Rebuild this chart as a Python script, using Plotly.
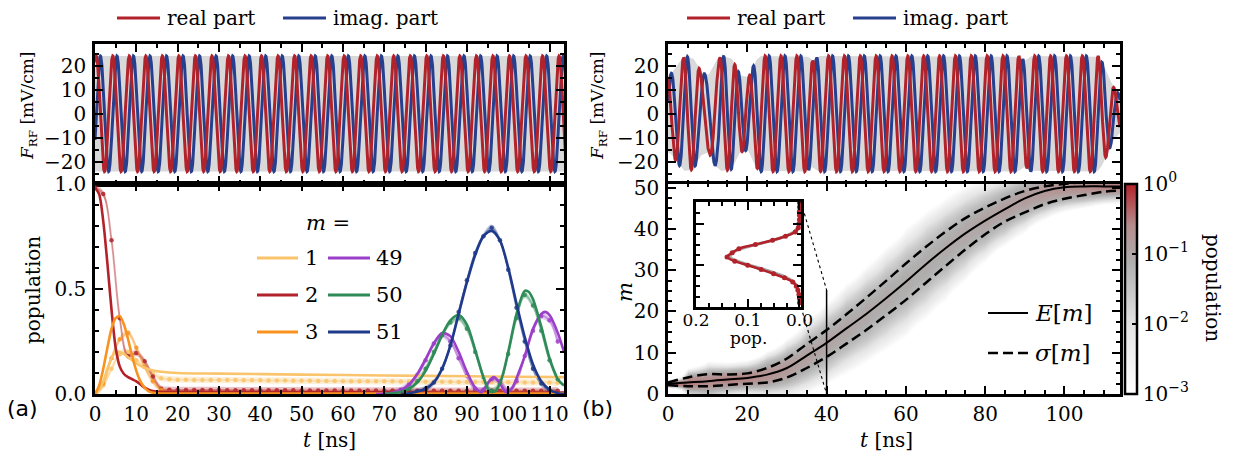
import numpy as np
import plotly.graph_objects as go

W, H = 1234, 462
SERIF = "DejaVu Serif"
SANS = "DejaVu Sans"

# ------------------------------------------------------------------ data
# (a) drive field: constant-amplitude carrier
a_amp = 24.0           # mV/cm
a_period = 4.0         # ns
a_first_peak = 0.3     # ns, first maximum of the real part

# (b) drive field: envelope samples and times of the real-part maxima
b_env_t = [0, 1, 2.6, 4.3, 6.4, 8.5, 10.2, 11.9, 13.6, 16.1, 18.2, 20.3, 22.0, 23.2,
           35.0, 36.5, 38.0, 88.5, 90.0, 91.5, 108.5, 110.0, 111.2, 112.9, 114.0]
b_env_A = [16, 17, 21, 24, 23, 17, 16, 21.8, 24, 23, 16, 15, 21.8, 24,
           24, 22, 24, 24, 22, 24, 24, 20, 15, 9.5, 8]
b_peak_t = [-0.2, 3.9, 7.9, 13.1, 16.9, 20.5, 24.5, 112.5, 116.5]
b_peak_n = [0, 1, 2, 3, 4, 5, 6, 28, 29]

# (a) populations: simulation curves (solid)
m1_sim_t = [0, 1, 2, 3, 4, 5, 6, 7, 8, 9, 10, 12, 14, 16, 20, 30, 50, 70, 90, 113.5]
m1_sim = [0, 0.02, 0.06, 0.12, 0.17, 0.2, 0.2, 0.19, 0.175, 0.16, 0.145, 0.125, 0.112, 0.106,
          0.1, 0.097, 0.092, 0.088, 0.084, 0.08]
m2_sim_t = [0, 1, 2, 3, 4, 5, 6, 7, 8, 9, 10, 11, 12, 13, 14, 15, 17, 20, 40, 70, 100, 113.5]
m2_sim = [0.98, 0.95, 0.82, 0.62, 0.4, 0.22, 0.13, 0.095, 0.08, 0.07, 0.06, 0.045, 0.03, 0.02,
          0.014, 0.011, 0.01, 0.01, 0.009, 0.008, 0.007, 0.007]
m3_sim_t = [0, 1, 2, 3, 4, 5, 6, 7, 8, 9, 10, 11, 12, 13, 14, 15, 17, 20, 60, 113.5]
m3_sim = [0, 0.04, 0.12, 0.22, 0.31, 0.36, 0.37, 0.33, 0.26, 0.18, 0.11, 0.06, 0.03, 0.013,
          0.006, 0.003, 0.002, 0.002, 0.002, 0.002]
m49_sim_t = [68, 70, 72, 74, 76, 78, 80, 82, 84, 86, 88, 90, 92, 93.5, 95, 96.5, 98, 99.5,
             101, 102.5, 104, 106, 108, 109, 110, 112, 113.5]
m49_sim = [0, 0.002, 0.006, 0.018, 0.045, 0.095, 0.165, 0.24, 0.29, 0.275, 0.2, 0.105, 0.03,
           0.008, 0.05, 0.08, 0.05, 0.008, 0.03, 0.1, 0.18, 0.31, 0.38, 0.39, 0.375, 0.29, 0.2]
m50_sim_t = [70, 72, 74, 76, 78, 80, 82, 84, 86, 88, 90, 92, 94, 95.5, 97, 98.5, 100, 102,
             104, 105, 106, 108, 110, 112, 113.5]
m50_sim = [0, 0.003, 0.01, 0.025, 0.055, 0.11, 0.19, 0.28, 0.35, 0.375, 0.33, 0.21, 0.08,
           0.012, 0.015, 0.08, 0.2, 0.38, 0.49, 0.485, 0.45, 0.32, 0.17, 0.07, 0.04]
m51_sim_t = [74, 76, 78, 80, 82, 84, 86, 88, 90, 92, 94, 96, 98, 100, 102, 104, 106, 108,
             110, 112, 113.5]
m51_sim = [0, 0.004, 0.012, 0.025, 0.055, 0.12, 0.23, 0.38, 0.53, 0.66, 0.75, 0.775, 0.73,
           0.6, 0.43, 0.27, 0.14, 0.06, 0.02, 0.004, 0]

# (a) populations: measured points (dots), every 2 ns
t_data = [0, 2, 4, 6, 8, 10, 12, 14, 16, 18, 20, 22, 24, 26, 28, 30, 32, 34, 36, 38, 40,
          42, 44, 46, 48, 50, 52, 54, 56, 58, 60, 62, 64, 66, 68, 70, 72, 74, 76, 78, 80,
          82, 84, 86, 88, 90, 92, 94, 96, 98, 100, 102, 104, 106, 108, 110, 112]
m1_data = [0.0, 0.04, 0.12, 0.19, 0.2, 0.16, 0.13, 0.095, 0.075, 0.07,
           0.068, 0.068, 0.067, 0.067, 0.067, 0.066, 0.066, 0.066, 0.065, 0.065, 0.065,
           0.064, 0.064, 0.064, 0.063, 0.063, 0.063, 0.062, 0.062, 0.062, 0.061, 0.061,
           0.061, 0.06, 0.06, 0.06, 0.06, 0.059, 0.059, 0.059, 0.058, 0.058, 0.058, 0.058,
           0.057, 0.057, 0.057, 0.057, 0.056, 0.056, 0.056, 0.056, 0.055, 0.055, 0.055,
           0.055, 0.054]
m2_data = [0.98, 0.95, 0.73, 0.36, 0.18, 0.195, 0.155, 0.083, 0.025, 0.02,
           0.019, 0.019, 0.019, 0.019, 0.019, 0.019, 0.018, 0.018, 0.018, 0.018, 0.018,
           0.018, 0.018, 0.018, 0.018, 0.017, 0.017, 0.017, 0.017, 0.017, 0.017, 0.017,
           0.017, 0.017, 0.017, 0.017, 0.017, 0.017, 0.016, 0.016, 0.016, 0.016, 0.016,
           0.016, 0.016, 0.016, 0.016, 0.016, 0.016, 0.016, 0.016, 0.016, 0.016, 0.016,
           0.016, 0.016, 0.016]
m3_data = [0.0, 0.05, 0.17, 0.26, 0.29, 0.22, 0.13, 0.06, 0.02, 0.008,
           0.005, 0.005, 0.005, 0.005, 0.005, 0.005, 0.005, 0.005, 0.005, 0.005, 0.005,
           0.005, 0.005, 0.005, 0.005, 0.005, 0.005, 0.005, 0.005, 0.005, 0.005, 0.005,
           0.005, 0.005, 0.005, 0.005, 0.005, 0.005, 0.005, 0.005, 0.005, 0.005, 0.005,
           0.005, 0.005, 0.005, 0.005, 0.005, 0.005, 0.005, 0.005, 0.005, 0.005, 0.005,
           0.005, 0.005, 0.005]
t_data_late = [70, 72, 74, 76, 78, 80, 82, 84, 86, 88, 90, 92, 94, 96, 98, 100, 102, 104,
               106, 108, 110, 112]
m49_data = [0.0, 0.005, 0.02, 0.045, 0.09, 0.16, 0.24, 0.28, 0.25, 0.17, 0.085, 0.025,
            0.02, 0.07, 0.06, 0.015, 0.06, 0.18, 0.3, 0.37, 0.35, 0.25]
m50_data = [0.0, 0.003, 0.01, 0.025, 0.06, 0.12, 0.2, 0.28, 0.34, 0.36, 0.31, 0.2, 0.08,
            0.015, 0.05, 0.19, 0.36, 0.47, 0.42, 0.3, 0.16, 0.07]
m51_data = [0.0, 0.002, 0.004, 0.006, 0.012, 0.025, 0.055, 0.12, 0.23, 0.39, 0.54, 0.67,
            0.75, 0.79, 0.73, 0.59, 0.41, 0.25, 0.12, 0.05, 0.015, 0.004]
data_err = 0.015

# (b) mean level and +/- sigma curves, read every 5 ns
hm_t = [0, 5, 10, 15, 20, 25, 30, 35, 40, 45, 50, 55, 60, 65, 70, 75, 80, 85, 90, 95,
        100, 105, 110, 115]
E_mean = [2.5, 2.8, 3.1, 3.5, 3.9, 4.7, 6.3, 9.3, 12.4, 15.9, 19.4, 23.2, 27.2, 31.4, 35.3,
          38.9, 42.0, 44.8, 47.4, 49.2, 50.1, 50.3, 50.3, 50.3]
sig_up = [2.8, 4.0, 4.8, 4.7, 5.0, 6.3, 8.6, 12.1, 15.5, 19.3, 23.3, 27.4, 31.6, 35.6, 39.3,
          42.6, 45.2, 47.4, 49.2, 50.3, 50.9, 51.3, 51.5, 51.6]
sig_lo = [2.2, 1.9, 1.9, 2.2, 2.5, 2.8, 4.0, 6.3, 9.0, 12.2, 15.5, 19.1, 22.8, 26.9, 31.0,
          35.0, 38.7, 41.8, 44.0, 46.0, 47.3, 48.2, 49.0, 49.3]
m_levels = list(range(0, 52))

# (b) inset: population distribution at t = 40 ns
inset_t = 40
inset_m = [1, 2, 3, 4, 5, 6, 7, 8, 9, 10, 11, 12, 13, 14, 15, 16, 17, 18, 19, 20, 21, 22,
           23, 24, 25]
inset_meas = [0.0, 0.0, 0.001, 0.003, 0.006, 0.013, 0.029, 0.05, 0.074, 0.1, 0.125, 0.14,
              0.13, 0.117, 0.085, 0.052, 0.027, 0.008, 0.002, 0.001, 0.0, 0.0, 0.0, 0.0, 0.0]
inset_theo = [0.0, 0.0, 0.001, 0.002, 0.005, 0.011, 0.024, 0.044, 0.068, 0.095, 0.12,
              0.134, 0.13, 0.112, 0.083, 0.052, 0.027, 0.011, 0.004, 0.001, 0.0, 0.0, 0.0,
              0.0, 0.0]

# ------------------------------------------------------------------ style
RED = "#b2222a"
BLUE = "#263f8e"
GRAY = "#d9d9d9"
COL = {1: "#f9c46b", 2: "#b2222a", 3: "#f7931e", 49: "#9b3fc9", 50: "#2e8b57", 51: "#1f3a8a"}


def rgba(hexc, a):
    h = hexc.lstrip("#")
    return "rgba(%d,%d,%d,%.3f)" % (int(h[0:2], 16), int(h[2:4], 16), int(h[4:6], 16), a)


XL = [95 / W, 564 / W]
XR = [668 / W, 1120 / W]
YT = [1 - 183.5 / H, 1 - 44 / H]
YB = [1 - 394 / H, 1 - 183.5 / H]
XI = [696 / W, 801 / W]
YI = [1 - 307 / H, 1 - 202 / H]
RX_A = [0, 113.5]
RX_B = [0, 114]
RY_TOP = [-29, 29]
RY_INSET = [0, 25.2]
RX_INSET = [0.2, -0.003]

fig = go.Figure()

# ---- (a) top: field
t_f = np.linspace(0, 114, 2281)
ph_a = 2 * np.pi * (t_f - a_first_peak) / a_period
fig.add_trace(go.Scatter(x=np.concatenate([t_f, t_f[::-1]]),
                         y=np.concatenate([np.full_like(t_f, a_amp), np.full_like(t_f, -a_amp)]),
                         fill="toself", fillcolor=GRAY, line=dict(width=0), mode="lines",
                         xaxis="x", yaxis="y", hoverinfo="skip"))
fig.add_trace(go.Scatter(x=t_f, y=a_amp * np.sin(ph_a), mode="lines",
                         line=dict(color=BLUE, width=3), xaxis="x", yaxis="y"))
fig.add_trace(go.Scatter(x=t_f, y=a_amp * np.cos(ph_a), mode="lines",
                         line=dict(color=RED, width=3), xaxis="x", yaxis="y"))

# ---- (b) top: field
env_b = np.interp(t_f, b_env_t, b_env_A)
ph_b = 2 * np.pi * np.interp(t_f, b_peak_t, b_peak_n)
fig.add_trace(go.Scatter(x=np.concatenate([t_f, t_f[::-1]]),
                         y=np.concatenate([env_b, -env_b[::-1]]),
                         fill="toself", fillcolor=GRAY, line=dict(width=0), mode="lines",
                         xaxis="x3", yaxis="y3", hoverinfo="skip"))
fig.add_trace(go.Scatter(x=t_f, y=env_b * np.sin(ph_b), mode="lines",
                         line=dict(color=BLUE, width=3), xaxis="x3", yaxis="y3"))
fig.add_trace(go.Scatter(x=t_f, y=env_b * np.cos(ph_b), mode="lines",
                         line=dict(color=RED, width=3), xaxis="x3", yaxis="y3"))

# ---- (a) bottom: populations
data_sets = [(1, t_data, m1_data), (2, t_data, m2_data), (3, t_data, m3_data),
             (49, t_data_late, m49_data), (50, t_data_late, m50_data),
             (51, t_data_late, m51_data)]
sim_sets = [(1, m1_sim_t, m1_sim), (2, m2_sim_t, m2_sim), (3, m3_sim_t, m3_sim),
            (49, m49_sim_t, m49_sim), (50, m50_sim_t, m50_sim), (51, m51_sim_t, m51_sim)]
for m, tt, yy in data_sets:
    tt = np.array(tt, float)
    yy = np.array(yy, float)
    fig.add_trace(go.Scatter(x=np.concatenate([tt, tt[::-1]]),
                             y=np.concatenate([yy + data_err, (yy - data_err)[::-1]]),
                             fill="toself", fillcolor=rgba(COL[m], 0.28), line=dict(width=0),
                             mode="lines", line_shape="spline", xaxis="x2", yaxis="y2",
                             hoverinfo="skip"))
for m, tt, yy in data_sets:
    fig.add_trace(go.Scatter(x=tt, y=yy, mode="lines+markers",
                             line=dict(color=rgba(COL[m], 0.4), width=2, shape="spline"),
                             marker=dict(color=rgba(COL[m], 0.85), size=4.5),
                             xaxis="x2", yaxis="y2"))
for m, tt, yy in sim_sets:
    fig.add_trace(go.Scatter(x=tt, y=yy, mode="lines",
                             line=dict(color=COL[m], width=2.6, shape="spline", smoothing=0.8),
                             xaxis="x2", yaxis="y2"))

# ---- (b) bottom: heatmap of population (Gaussian around the mean level)
E_arr = np.array(E_mean)
S_arr = np.maximum((np.array(sig_up) - np.array(sig_lo)) / 2, 0.3)
mm = np.array(m_levels, float)[:, None]
pop = np.exp(-(mm - E_arr[None, :]) ** 2 / (2 * S_arr[None, :] ** 2)) / (S_arr[None, :] * np.sqrt(2 * np.pi))
zlog = np.log10(np.clip(pop, 1e-8, 1.0))
cscale = [[0.0, "#ffffff"], [0.33, "#e4e4e4"], [0.62, "#b0b0b0"], [0.8, "#b48e8e"],
          [1.0, "#b2222a"]]
fig.add_trace(go.Heatmap(x=hm_t, y=m_levels, z=zlog, zmin=-3, zmax=0, zsmooth="best",
                         colorscale=cscale, xaxis="x4", yaxis="y4", hoverinfo="skip",
                         colorbar=dict(x=1125 / W, xanchor="left", y=1 - 288.5 / H,
                                       yanchor="middle", len=210 / H, lenmode="fraction",
                                       thickness=12, thicknessmode="pixels",
                                       outlinewidth=2.5, outlinecolor="black",
                                       tickvals=[-3, -2, -1, 0],
                                       ticktext=["10<sup>−3</sup>", "10<sup>−2</sup>",
                                                 "10<sup>−1</sup>", "10<sup>0</sup>"],
                                       ticks="inside", ticklen=6, tickwidth=2,
                                       tickcolor="black", xpad=0, ypad=0,
                                       tickfont=dict(family=SERIF, size=20, color="black"))))
fig.add_trace(go.Scatter(x=hm_t, y=E_mean, mode="lines",
                         line=dict(color="black", width=2, shape="spline"),
                         xaxis="x4", yaxis="y4"))
for arr in (sig_up, sig_lo):
    fig.add_trace(go.Scatter(x=hm_t, y=arr, mode="lines",
                             line=dict(color="black", width=2.5, dash="10px,5px", shape="spline"),
                             xaxis="x4", yaxis="y4"))

# ---- (b) inset
fig.add_trace(go.Scatter(x=inset_theo, y=inset_m, mode="lines",
                         line=dict(color="#a6a6a6", width=3, shape="spline"),
                         xaxis="x5", yaxis="y5"))
fig.add_trace(go.Scatter(x=inset_meas, y=inset_m, mode="lines+markers",
                         line=dict(color=RED, width=2.6, shape="spline"),
                         marker=dict(color=RED, size=5), xaxis="x5", yaxis="y5"))


# ------------------------------------------------------------------ axes
def axis(domain, rng, dtick, mdtick, anchor, labels=True, fmt=None, fsize=20, standoff=2):
    d = dict(domain=domain, range=rng, anchor=anchor, showline=True, linecolor="black",
             linewidth=2.5, mirror="allticks", ticks="inside", ticklen=8, tickwidth=1.8,
             tickcolor="black", dtick=dtick, tick0=0, showgrid=False, zeroline=False,
             showticklabels=labels, ticklabelstandoff=standoff, automargin=False,
             tickfont=dict(family=SERIF, size=fsize, color="black"),
             minor=dict(ticks="inside", ticklen=4, tickwidth=1.5, tickcolor="black",
                        dtick=mdtick, tick0=0, showgrid=False))
    if fmt:
        d["tickformat"] = fmt
    return d


fig.update_layout(
    template="none",
    width=W, height=H, margin=dict(l=0, r=0, t=0, b=0, pad=0, autoexpand=False),
    paper_bgcolor="white", plot_bgcolor="white", showlegend=False,
    xaxis=axis(XL, RX_A, 10, 5, "y", labels=False),
    yaxis=axis(YT, RY_TOP, 10, 5, "x"),
    xaxis2=axis(XL, RX_A, 10, 5, "y2", standoff=0),
    yaxis2=axis(YB, [0, 1.0], 0.5, 0.1, "x2", fmt=".1f"),
    xaxis3=axis(XR, RX_B, 20, 5, "y3", labels=False),
    yaxis3=axis(YT, RY_TOP, 10, 5, "x3"),
    xaxis4=axis(XR, RX_B, 20, 5, "y4", standoff=0),
    yaxis4=axis(YB, [0, 51], 10, 2.5, "x4"),
    xaxis5=axis(XI, RX_INSET, 0.1, 0.025, "y5", fmt=".1f", fsize=17, standoff=-4),
    yaxis5=axis(YI, RY_INSET, 10, 2.5, "x5", labels=False),
)


# ---- zoom markers (t = 40 ns slice shown in the inset)
def x4_of_paper(px):
    return RX_B[0] + (px - XR[0]) / (XR[1] - XR[0]) * (RX_B[1] - RX_B[0])


def y4_of_paper(py):
    return 0 + (py - YB[0]) / (YB[1] - YB[0]) * 51


shapes = [dict(type="line", xref="x4", yref="y4", x0=inset_t, x1=inset_t,
               y0=RY_INSET[0], y1=RY_INSET[1], line=dict(color="black", width=1.5)),
          dict(type="line", xref="x4", yref="y4", x0=x4_of_paper(XI[1]), y0=y4_of_paper(YI[1]),
               x1=inset_t, y1=RY_INSET[1], line=dict(color="black", width=1.1, dash="dot")),
          dict(type="line", xref="x4", yref="y4", x0=x4_of_paper(XI[1]), y0=y4_of_paper(YI[0]),
               x1=inset_t, y1=RY_INSET[0], line=dict(color="black", width=1.1, dash="dot"))]


def lline(x0, x1, y, color, width=3, dash="solid"):
    shapes.append(dict(type="line", xref="paper", yref="paper", x0=x0 / W, x1=x1 / W,
                       y0=1 - y / H, y1=1 - y / H, line=dict(color=color, width=width, dash=dash)))


ann = []


def txt(x, y, s, size=20, angle=0, xanchor="center", family=SERIF):
    ann.append(dict(x=x / W, y=1 - y / H, xref="paper", yref="paper", text=s, showarrow=False,
                    font=dict(family=family, size=size, color="black"), textangle=angle,
                    xanchor=xanchor, yanchor="middle"))


# top legends
for x0 in (117, 687):
    lline(x0, x0 + 43, 18, RED)
    txt(x0 + 48, 18, "real part", size=20, xanchor="left")
    lline(x0 + 166, x0 + 209, 18, BLUE)
    txt(x0 + 214, 18, "imag. part", size=20, xanchor="left")

# m legend
txt(328, 223, "<i>m</i> =", size=21)
for i, (ma, mb) in enumerate([(1, 49), (2, 50), (3, 51)]):
    yy = 258 + 37 * i
    lline(257, 298, yy, COL[ma])
    txt(303, yy, str(ma), size=21, xanchor="left")
    lline(328, 370, yy, COL[mb])
    txt(374, yy, str(mb), size=21, xanchor="left")

# E / sigma legend
lline(988, 1028, 313, "black", width=2)
txt(1033, 313, "<i>E</i>[<i>m</i>]", size=23, xanchor="left")
lline(988, 1028, 353, "black", width=2.5, dash="10px,5px")
txt(1033, 353, "<i>σ</i>[<i>m</i>]", size=23, xanchor="left")

# axis titles
FRF = "<i>F</i><sub>RF</sub> [mV/cm]"
txt(28, 106, FRF, size=17, angle=-90)
txt(598, 106, FRF, size=17, angle=-90)
txt(33, 290, "population", angle=-90)
txt(625, 292, "<i>m</i>", size=21, angle=-90)
txt(330, 440, "<i>t</i> [ns]")
txt(886, 440, "<i>t</i> [ns]")
txt(1213, 288, "population", angle=90)
txt(748, 338, "pop.", size=17)
txt(22, 408, "(a)", size=22, family=SANS)
txt(597, 408, "(b)", size=22, family=SANS)

fig.update_layout(shapes=shapes, annotations=ann)
fig.write_html("out.html", config={"displayModeBar": False},
               post_script="document.body.style.margin='0px';")
